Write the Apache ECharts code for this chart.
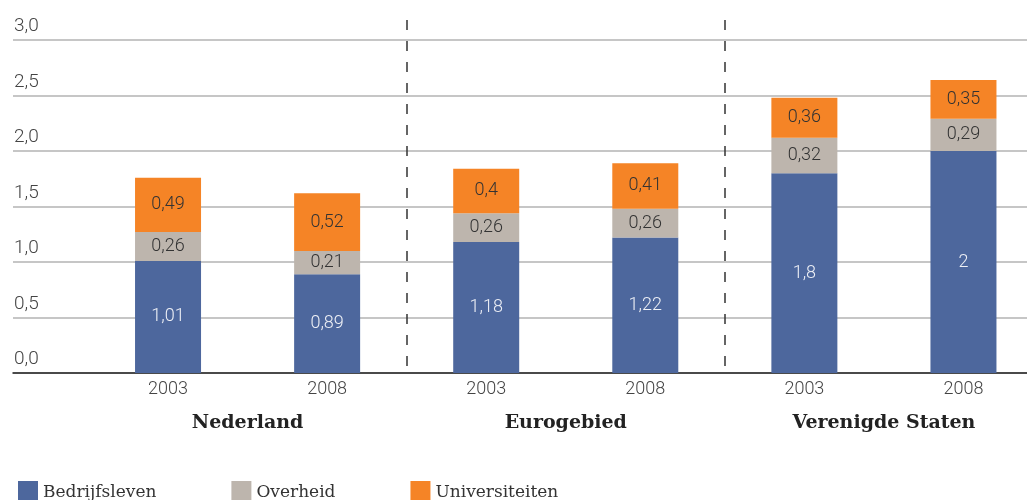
<!DOCTYPE html>
<html>
<head>
<meta charset="utf-8">
<script src="https://cdn.jsdelivr.net/npm/echarts@6/dist/echarts.min.js"></script>
<style>
  html, body { margin: 0; padding: 0; background: #fff; overflow: hidden; }
  /* the last column's band runs past the right edge of the page */
  #chart { width: 1043px; height: 500px; }
</style>
</head>
<body>
<div id="chart"></div>
<script>
// R&D spending as % of GDP, split by sector
const years = ['2003', '2008', '2003', '2008', '2003', '2008'];
const regions = ['Nederland', 'Eurogebied', 'Verenigde Staten'];
const seriesNames = ['Bedrijfsleven', 'Overheid', 'Universiteiten'];
const bedrijfsleven = [1.01, 0.89, 1.18, 1.22, 1.8, 2];
const overheid = [0.26, 0.21, 0.26, 0.26, 0.32, 0.29];
const universiteiten = [0.49, 0.52, 0.4, 0.41, 0.36, 0.35];
const yTicks = { min: 0, max: 3, step: 0.5 };

const colors = ['#4d679d', '#bdb5ad', '#f58426'];
const labelColors = ['#eef0f6', '#333333', '#333333'];
const serif = '"DejaVu Serif", serif';
const light = 'Roboto, "Liberation Sans", sans-serif';

const comma = v => String(v).replace('.', ',');

function barSeries(name, data, idx) {
  return {
    name: name,
    type: 'bar',
    stack: 'total',
    xAxisIndex: 1,
    yAxisIndex: 1,
    barWidth: 66,
    data: data,
    itemStyle: { color: colors[idx] },
    label: {
      show: true,
      position: 'inside',
      formatter: p => comma(p.value),
      color: labelColors[idx],
      fontFamily: light,
      fontWeight: 300,
      fontSize: 18
    }
  };
}

const chart = echarts.init(document.getElementById('chart'));
chart.setOption({
  animation: false,
  grid: [
    { left: 13, right: 16, top: 40, bottom: 127 },
    { left: 88.5, right: 0, top: 40, bottom: 127 },
    { left: 88.5, right: 0, top: 20, bottom: 127 }
  ],
  xAxis: [
    {
      gridIndex: 0, type: 'category', data: [''],
      axisLine: { show: true, lineStyle: { color: '#222', width: 1.5 } },
      axisTick: { show: false }, axisLabel: { show: false }
    },
    {
      gridIndex: 1, type: 'category', data: years,
      axisLine: { show: false }, axisTick: { show: false },
      axisLabel: { margin: 7, color: '#444', fontFamily: light, fontWeight: 300, fontSize: 18 }
    },
    {
      gridIndex: 2, type: 'category', data: regions,
      axisLine: { show: false }, axisTick: { show: false },
      axisLabel: { margin: 41, color: '#222', fontFamily: serif, fontWeight: 'bold', fontSize: 19 },
      splitLine: {
        show: true,
        interval: (i) => i === 1 || i === 2,
        lineStyle: { color: '#333', width: 1.5, type: [10, 11] }
      }
    }
  ],
  yAxis: [
    {
      gridIndex: 0, type: 'value', min: yTicks.min, max: yTicks.max, interval: yTicks.step,
      axisLine: { show: false }, axisTick: { show: false },
      splitLine: { lineStyle: { color: '#b3b3b3', width: 1.5 } },
      axisLabel: {
        inside: true, margin: 1, verticalAlign: 'bottom', padding: [0, 0, 4, 0],
        formatter: v => comma(v.toFixed(1)),
        color: '#444', fontFamily: light, fontWeight: 300, fontSize: 19
      }
    },
    { gridIndex: 1, type: 'value', min: yTicks.min, max: yTicks.max, show: false },
    { gridIndex: 2, type: 'value', min: 0, max: 1, show: false }
  ],
  legend: {
    data: seriesNames,
    left: 13, top: 476,
    icon: 'rect', itemWidth: 20, itemHeight: 24, itemGap: 75,
    textStyle: { color: '#333', fontFamily: serif, fontSize: 17 }
  },
  series: [
    barSeries(seriesNames[0], bedrijfsleven, 0),
    barSeries(seriesNames[1], overheid, 1),
    barSeries(seriesNames[2], universiteiten, 2)
  ]
});
</script>
</body>
</html>
